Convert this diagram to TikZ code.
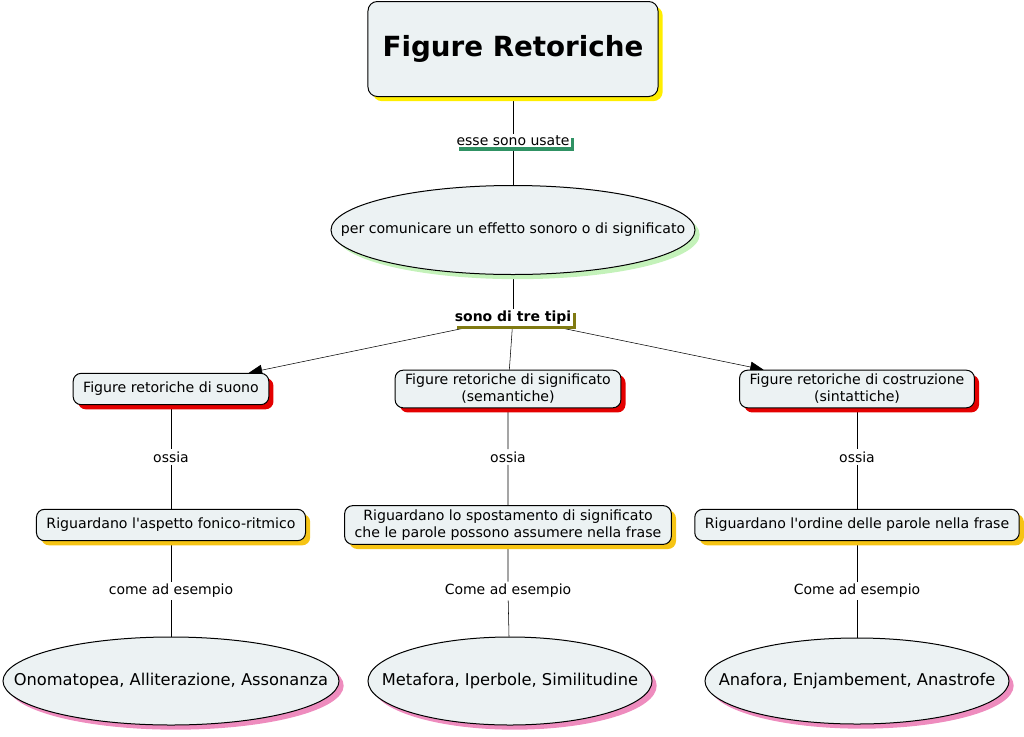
\documentclass[tikz,border=0pt]{standalone}
\usepackage{fontspec}
\setmainfont{DejaVu Sans}
\usetikzlibrary{arrows.meta,shapes,shadows,backgrounds}

\definecolor{conceptfill}{RGB}{236,242,243}
\definecolor{yellowshade}{RGB}{255,238,0}
\definecolor{redshade}{RGB}{228,0,0}
\definecolor{goldshade}{RGB}{246,196,20}
\definecolor{pinkshade}{RGB}{238,140,190}
\definecolor{mintshade}{RGB}{196,242,186}
\definecolor{greenshade}{RGB}{48,146,100}
\definecolor{oliveshade}{RGB}{128,122,18}

\newcommand{\ovaltext}[1]{\makebox[0pt][c]{#1}}

\begin{document}
\begin{tikzpicture}[>={Triangle[length=10pt,width=8pt]},line width=0.75pt,
		concept/.style={draw, fill=conceptfill, align=center,
			font=\fontsize{10.6}{12.75}\selectfont},
		box/.style={concept, rectangle, rounded corners=6pt,
			inner xsep=7.5pt, inner ysep=3pt, minimum height=23.5pt},
		oval/.style={concept, ellipse, inner sep=0pt},
		shade/.style={drop shadow={shadow xshift=3.5pt, shadow yshift=-3.5pt,
			fill=#1, opacity=1}},
		linking/.style={fill=white, inner sep=1pt,
			font=\fontsize{10.5}{12}\selectfont,
			drop shadow={shadow xshift=2.5pt, shadow yshift=-2.5pt,
			fill=#1, opacity=1}},
		plain/.style={fill=white, inner sep=1.5pt,
			font=\fontsize{10.5}{12}\selectfont}]

		\useasboundingbox (-384.75pt,36.75pt) rectangle (383.25pt,-515.25pt);

		\node[concept, rectangle, rounded corners=7pt, shade=yellowshade,
			minimum width=217.5pt, minimum height=71.25pt,
			font=\fontsize{20.8}{24}\selectfont\bfseries] (T) {Figure Retoriche};
		\node[linking=greenshade] (U) [below of=T, node distance=69pt] {esse sono usate};
		\node[oval, shade=mintshade, minimum width=273pt, minimum height=66.75pt] (C)
			[below of=U, node distance=66.75pt] {\ovaltext{per comunicare un effetto sonoro o di significato}};
		\node[linking=oliveshade] (K) [below of=C, node distance=66pt] {\bfseries sono di tre tipi};

		\node[box, shade=redshade] (M1) [below of=K, node distance=53.25pt, xshift=-3.75pt]
			{Figure retoriche di significato\\(semantiche)};
		\node[box, shade=redshade] (L1) [left of=M1, node distance=252.75pt]
			{Figure retoriche di suono};
		\node[box, shade=redshade] (R1) [right of=M1, node distance=261.75pt]
			{Figure retoriche di costruzione\\(sintattiche)};

		\node[plain] (L2) [below of=L1, node distance=51pt] {ossia};
		\node[plain] (M2) [below of=M1, node distance=51pt] {ossia};
		\node[plain] (R2) [below of=R1, node distance=51pt] {ossia};

		\node[box, shade=goldshade] (L3) [below of=L2, node distance=51pt]
			{Riguardano l\textquotesingle aspetto fonico-ritmico};
		\node[box, shade=goldshade] (M3) [below of=M2, node distance=51pt]
			{Riguardano lo spostamento di significato\\che le parole possono assumere nella frase};
		\node[box, shade=goldshade] (R3) [below of=R2, node distance=51pt]
			{Riguardano l\textquotesingle ordine delle parole nella frase};

		\node[plain] (L4) [below of=L3, node distance=49.5pt] {come ad esempio};
		\node[plain] (M4) [below of=M3, node distance=49.5pt] {Come ad esempio};
		\node[plain] (R4) [below of=R3, node distance=49.5pt] {Come ad esempio};

		\node[oval, shade=pinkshade, minimum width=252pt, minimum height=66pt,
			font=\fontsize{12.2}{14}\selectfont] (L5)
			[below of=L4, node distance=67.5pt] {\ovaltext{Onomatopea, Alliterazione, Assonanza}};
		\node[oval, shade=pinkshade, minimum width=213pt, minimum height=66pt,
			font=\fontsize{12.2}{14}\selectfont] (M5)
			[below of=M4, node distance=67.5pt, xshift=1.5pt] {\ovaltext{Metafora, Iperbole, Similitudine}};
		\node[oval, shade=pinkshade, minimum width=228pt, minimum height=64.5pt,
			font=\fontsize{12.2}{14}\selectfont] (R5)
			[below of=R4, node distance=67.5pt] {\ovaltext{Anafora, Enjambement, Anastrofe}};

		\begin{scope}[on background layer]
			\draw (T) -- (U) -- (C) -- (K);
			\draw[->] (K) -- (L1);
			\draw (K) -- (M1);
			\draw[->] (K) -- (R1);
			\draw (L1) -- (L2) -- (L3) -- (L4) -- (L5);
			\draw (M1) -- (M2) -- (M3) -- (M4) -- (M5);
			\draw (R1) -- (R2) -- (R3) -- (R4) -- (R5);
		\end{scope}

	\end{tikzpicture}
\end{document}
